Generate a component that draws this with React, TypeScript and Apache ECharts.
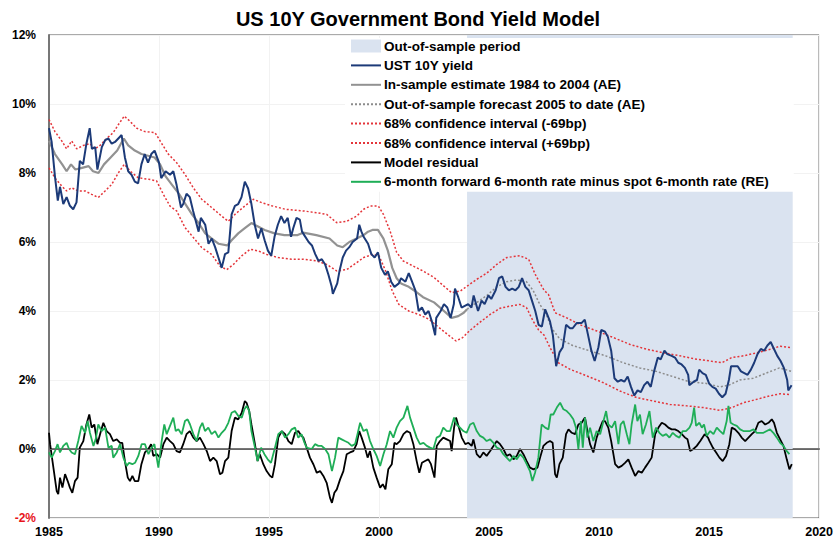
import React, { useEffect, useRef } from "react";
import * as echarts from "echarts";

const FONT = "'Liberation Sans', Arial, Helvetica, sans-serif";

const yearTicks = [1985, 1990, 1995, 2000, 2005, 2010, 2015, 2020];
const shadeRange = [2004.0, 2018.8];

const yieldPts: [number, number][] = [
  [1985.0, 9.3], [1985.12, 8.9], [1985.27, 7.9], [1985.4, 7.2], [1985.5, 7.6], [1985.65, 7.1], [1985.8, 7.3],
  [1985.95, 7.05], [1986.1, 6.95], [1986.25, 7.15], [1986.4, 8.35], [1986.55, 8.25], [1986.7, 8.85], [1986.85, 9.3],
  [1986.95, 8.7], [1987.1, 8.75], [1987.2, 8.1], [1987.4, 8.75], [1987.55, 8.95], [1987.7, 9.0], [1987.85, 8.85],
  [1988.0, 8.9], [1988.15, 9.0], [1988.3, 9.1], [1988.45, 8.45], [1988.6, 8.05], [1988.75, 7.95], [1988.9, 7.75],
  [1989.05, 7.7], [1989.2, 8.25], [1989.35, 8.55], [1989.5, 8.3], [1989.65, 8.55], [1989.8, 8.65], [1990.0, 8.3],
  [1990.1, 7.85], [1990.3, 8.05], [1990.5, 7.95], [1990.65, 8.05], [1990.8, 7.65], [1991.0, 7.0], [1991.1, 7.1],
  [1991.25, 7.4], [1991.4, 7.3], [1991.55, 6.9], [1991.8, 6.3], [1991.9, 6.7], [1992.1, 6.5], [1992.25, 5.95],
  [1992.4, 6.1], [1992.55, 5.85], [1992.7, 5.55], [1992.85, 5.25], [1993.0, 5.65], [1993.15, 5.7], [1993.3, 6.8],
  [1993.45, 7.05], [1993.6, 7.1], [1993.75, 7.3], [1993.9, 7.75], [1994.05, 7.55], [1994.2, 7.1], [1994.35, 6.5],
  [1994.5, 6.1], [1994.65, 6.4], [1994.8, 6.05], [1994.95, 5.75], [1995.1, 5.6], [1995.25, 6.15], [1995.4, 6.5],
  [1995.55, 6.75], [1995.7, 6.55], [1995.85, 6.7], [1996.0, 6.15], [1996.1, 6.4], [1996.25, 6.7], [1996.4, 6.65],
  [1996.5, 6.3], [1996.6, 6.2], [1996.8, 6.0], [1996.95, 5.9], [1997.1, 5.65], [1997.25, 5.45], [1997.4, 5.5],
  [1997.55, 5.35], [1997.7, 5.05], [1997.85, 4.7], [1997.9, 4.5], [1998.1, 4.8], [1998.2, 5.15], [1998.35, 5.55],
  [1998.5, 5.75], [1998.65, 5.85], [1998.8, 6.0], [1999.0, 6.1], [1999.1, 6.5], [1999.2, 6.3], [1999.3, 6.15],
  [1999.5, 5.95], [1999.65, 5.65], [1999.8, 5.55], [1999.95, 5.7], [2000.1, 5.25], [2000.27, 5.05], [2000.4, 5.15],
  [2000.55, 4.85], [2000.7, 4.7], [2000.9, 4.8], [2001.0, 4.95], [2001.2, 4.85], [2001.35, 5.1], [2001.5, 4.85],
  [2001.65, 4.6], [2001.8, 4.0], [2001.95, 4.1], [2002.1, 3.9], [2002.25, 4.0], [2002.4, 3.7], [2002.55, 3.3],
  [2002.6, 3.8], [2002.8, 4.0], [2002.95, 4.2], [2003.1, 4.1], [2003.25, 3.8], [2003.4, 4.2], [2003.45, 4.65],
  [2003.6, 4.4], [2003.75, 4.1], [2003.9, 4.15], [2004.05, 4.2], [2004.2, 4.1], [2004.3, 4.45], [2004.5, 4.0],
  [2004.66, 4.3], [2004.8, 4.2], [2004.97, 4.45], [2005.1, 4.35], [2005.3, 4.6], [2005.45, 4.95], [2005.6, 5.0],
  [2005.75, 4.7], [2005.9, 4.6], [2006.05, 4.65], [2006.2, 4.6], [2006.35, 4.7], [2006.5, 4.95], [2006.65, 4.7],
  [2006.8, 4.6], [2006.95, 4.3], [2007.1, 4.0], [2007.25, 3.6], [2007.4, 3.55], [2007.55, 4.05], [2007.77, 3.7],
  [2007.9, 3.3], [2008.05, 2.4], [2008.2, 2.8], [2008.35, 2.95], [2008.5, 3.6], [2008.68, 3.5], [2008.8, 3.5],
  [2008.98, 3.65], [2009.2, 3.65], [2009.35, 3.75], [2009.5, 3.3], [2009.65, 2.85], [2009.8, 2.55], [2009.97, 2.95],
  [2010.1, 3.45], [2010.27, 3.4], [2010.4, 3.25], [2010.55, 2.85], [2010.7, 2.05], [2010.85, 1.95], [2011.0, 2.0],
  [2011.15, 1.95], [2011.3, 2.1], [2011.45, 1.8], [2011.6, 1.55], [2011.75, 1.7], [2011.9, 1.65], [2012.05, 1.85],
  [2012.2, 1.95], [2012.35, 1.8], [2012.5, 2.25], [2012.67, 2.65], [2012.8, 2.6], [2012.97, 2.85], [2013.1, 2.75],
  [2013.3, 2.7], [2013.45, 2.65], [2013.6, 2.5], [2013.75, 2.45], [2013.9, 2.35], [2014.05, 2.15], [2014.1, 1.85],
  [2014.3, 1.95], [2014.45, 2.0], [2014.55, 2.3], [2014.7, 2.2], [2014.85, 2.15], [2015.0, 1.9], [2015.15, 1.8],
  [2015.3, 1.75], [2015.45, 1.6], [2015.6, 1.5], [2015.75, 1.6], [2015.9, 2.0], [2016.0, 2.4], [2016.15, 2.4],
  [2016.3, 2.4], [2016.45, 2.25], [2016.6, 2.2], [2016.75, 2.15], [2016.9, 2.3], [2017.05, 2.5], [2017.2, 2.75],
  [2017.35, 2.9], [2017.5, 2.85], [2017.65, 3.0], [2017.8, 3.1], [2017.95, 2.9], [2018.1, 2.7], [2018.25, 2.55],
  [2018.4, 2.35], [2018.55, 2.0], [2018.6, 1.7], [2018.75, 1.85],
];

const estimatePts: [number, number][] = [
  [1985.0, 8.93], [1985.27, 8.55], [1985.6, 8.25], [1985.8, 8.05], [1986.0, 8.25], [1986.2, 8.1], [1986.5, 8.15],
  [1986.8, 8.2], [1987.0, 8.05], [1987.25, 8.0], [1987.5, 8.25], [1987.8, 8.45], [1988.1, 8.65], [1988.4, 9.0],
  [1988.6, 8.8], [1988.9, 8.65], [1989.2, 8.55], [1989.5, 8.5], [1989.8, 8.45], [1990.05, 8.25], [1990.3, 7.9],
  [1990.6, 7.65], [1990.9, 7.4], [1991.2, 7.1], [1991.5, 6.8], [1991.8, 6.55], [1992.1, 6.25], [1992.4, 6.1],
  [1992.7, 5.95], [1993.1, 5.9], [1993.3, 6.05], [1993.6, 6.25], [1993.9, 6.4], [1994.2, 6.55], [1994.5, 6.45],
  [1994.8, 6.35], [1995.25, 6.25], [1995.7, 6.2], [1996.3, 6.2], [1996.55, 6.27], [1997.15, 6.2], [1997.75, 6.1],
  [1998.1, 5.9], [1998.35, 5.85], [1998.65, 6.0], [1998.98, 6.1], [1999.3, 6.2], [1999.5, 6.3], [1999.7, 6.35],
  [1999.95, 6.35], [2000.2, 6.1], [2000.4, 5.75], [2000.6, 5.25], [2000.8, 4.95], [2001.0, 4.8], [2001.35, 4.7],
  [2001.7, 4.55], [2002.0, 4.4], [2002.5, 4.25], [2002.95, 4.0], [2003.3, 3.8], [2003.6, 3.85], [2003.85, 3.95],
  [2004.0, 4.05],
];

const forecastPts: [number, number][] = [
  [2004.0, 4.05], [2004.45, 4.25], [2004.9, 4.45], [2005.35, 4.7], [2005.8, 4.85], [2006.25, 4.9], [2006.7, 4.85],
  [2007.0, 4.6], [2007.3, 4.2], [2007.6, 3.9], [2007.85, 3.5], [2008.2, 3.2], [2008.8, 3.0], [2009.55, 2.85],
  [2010.3, 2.7], [2011.1, 2.5], [2011.85, 2.35], [2012.6, 2.25], [2013.35, 2.1], [2014.1, 1.95], [2014.88, 1.9],
  [2015.5, 1.8], [2015.9, 1.85], [2016.4, 2.0], [2017.0, 2.05], [2017.6, 2.2], [2018.2, 2.35], [2018.75, 2.25],
];

const lowerPts: [number, number][] = [
  [1985.0, 8.15], [1985.27, 7.86], [1985.58, 7.62], [1985.8, 7.48], [1986.03, 7.57], [1986.33, 7.48], [1986.64, 7.48],
  [1986.94, 7.38], [1987.24, 7.29], [1987.55, 7.48], [1987.85, 7.67], [1988.15, 8.0], [1988.42, 8.25], [1988.68, 8.06],
  [1989.06, 7.86], [1989.52, 7.82], [1989.89, 7.77], [1990.2, 7.38], [1990.5, 7.04], [1990.8, 6.9], [1991.18, 6.42],
  [1991.56, 6.13], [1991.94, 5.84], [1992.39, 5.64], [1992.77, 5.3], [1993.08, 5.2], [1993.38, 5.35], [1993.76, 5.6],
  [1994.14, 5.79], [1994.52, 5.74], [1994.89, 5.64], [1995.42, 5.55], [1996.03, 5.5], [1996.56, 5.5], [1997.17, 5.45],
  [1997.62, 5.35], [1998.08, 5.16], [1998.53, 5.2], [1998.98, 5.4], [1999.3, 5.55], [1999.7, 5.64], [2000.0, 5.6],
  [2000.3, 5.16], [2000.6, 4.58], [2000.9, 4.19], [2001.35, 4.0], [2001.8, 3.9], [2002.27, 3.76], [2002.73, 3.52],
  [2003.2, 3.28], [2003.5, 3.13], [2003.8, 3.23], [2004.1, 3.42], [2004.56, 3.66], [2005.05, 3.9], [2005.5, 4.08],
  [2005.95, 4.14], [2006.4, 4.19], [2006.7, 4.1], [2007.0, 3.71], [2007.25, 3.45], [2007.5, 3.3], [2007.77, 2.94],
  [2008.15, 2.5], [2008.68, 2.31], [2009.44, 2.12], [2010.2, 1.92], [2010.95, 1.68], [2011.71, 1.49], [2012.47, 1.39],
  [2013.23, 1.29], [2014.0, 1.25], [2014.74, 1.2], [2015.5, 1.12], [2016.03, 1.2], [2016.56, 1.34], [2017.17, 1.44],
  [2017.77, 1.54], [2018.23, 1.6], [2018.68, 1.58],
];

const upperPts: [number, number][] = [
  [1985.0, 9.55], [1985.27, 9.2], [1985.58, 8.93], [1985.8, 8.7], [1986.03, 8.93], [1986.26, 8.7], [1986.56, 8.8],
  [1986.86, 8.85], [1987.09, 8.7], [1987.32, 8.8], [1987.62, 9.0], [1987.92, 9.17], [1988.15, 9.4], [1988.42, 9.65],
  [1988.68, 9.5], [1988.98, 9.3], [1989.36, 9.2], [1989.82, 9.17], [1990.05, 8.93], [1990.42, 8.55], [1990.8, 8.3],
  [1991.18, 7.96], [1991.56, 7.57], [1991.94, 7.24], [1992.39, 7.0], [1992.85, 6.75], [1993.15, 6.6], [1993.45, 6.8],
  [1993.91, 7.05], [1994.29, 7.24], [1994.67, 7.14], [1995.12, 7.05], [1995.73, 6.95], [1996.2, 6.92], [1996.56, 6.9],
  [1997.17, 6.85], [1997.62, 6.8], [1998.08, 6.56], [1998.53, 6.6], [1998.98, 6.75], [1999.3, 6.95], [1999.6, 7.04],
  [1999.97, 7.04], [2000.2, 6.8], [2000.5, 6.32], [2000.8, 5.7], [2001.1, 5.45], [2001.56, 5.3], [2002.0, 5.16],
  [2002.5, 4.97], [2002.95, 4.72], [2003.3, 4.53], [2003.7, 4.58], [2004.0, 4.72], [2004.45, 4.92], [2004.9, 5.1],
  [2005.35, 5.35], [2005.8, 5.55], [2006.4, 5.6], [2006.8, 5.5], [2007.1, 5.06], [2007.32, 4.8], [2007.5, 4.6],
  [2007.7, 4.48], [2008.0, 3.95], [2008.53, 3.8], [2009.14, 3.6], [2009.9, 3.42], [2010.65, 3.23], [2011.41, 3.03],
  [2012.17, 2.89], [2012.92, 2.79], [2013.68, 2.7], [2014.44, 2.6], [2015.05, 2.55], [2015.58, 2.5], [2016.03, 2.65],
  [2016.56, 2.7], [2017.17, 2.79], [2017.77, 2.89], [2018.23, 2.98], [2018.68, 2.94],
];

const residualPts: [number, number][] = [
  [1985.0, 0.47], [1985.05, 0.14], [1985.2, -0.54], [1985.35, -1.22], [1985.42, -1.31], [1985.5, -0.83], [1985.61, -1.12],
  [1985.73, -0.73], [1985.85, -0.93], [1985.95, -1.12], [1986.06, -1.27], [1986.18, -0.93], [1986.3, -0.83], [1986.4, 0.04],
  [1986.56, 0.23], [1986.7, 0.71], [1986.83, 1.0], [1986.94, 0.62], [1987.06, 0.71], [1987.2, 0.14], [1987.32, 0.43],
  [1987.47, 0.76], [1987.62, 0.52], [1987.77, 0.43], [1987.92, 0.23], [1988.08, 0.28], [1988.23, 0.18], [1988.33, 0.18],
  [1988.45, -0.35], [1988.58, -0.83], [1988.68, -0.93], [1988.79, -0.78], [1988.9, -0.93], [1989.06, -0.93], [1989.2, -0.44],
  [1989.36, -0.1], [1989.52, 0.0], [1989.64, 0.14], [1989.74, -0.2], [1989.9, -0.15], [1990.05, -0.25], [1990.2, 0.14],
  [1990.35, 0.33], [1990.5, 0.23], [1990.65, 0.14], [1990.8, -0.06], [1990.95, -0.1], [1991.1, 0.14], [1991.25, 0.43],
  [1991.4, 0.52], [1991.56, 0.33], [1991.71, 0.23], [1991.86, 0.33], [1992.02, 0.14], [1992.17, -0.06], [1992.32, -0.35],
  [1992.47, -0.25], [1992.62, -0.35], [1992.77, -0.73], [1992.88, -0.69], [1993.0, -0.35], [1993.15, -0.25], [1993.3, 0.52],
  [1993.45, 0.91], [1993.6, 0.86], [1993.76, 1.05], [1993.9, 1.39], [1993.98, 1.34], [1994.1, 1.1], [1994.2, 0.71],
  [1994.36, 0.14], [1994.48, -0.35], [1994.58, -0.15], [1994.74, -0.44], [1994.89, -0.64], [1995.05, -0.78], [1995.15, -0.83],
  [1995.27, -0.44], [1995.42, 0.33], [1995.58, 0.52], [1995.73, 0.43], [1995.88, 0.23], [1996.03, 0.14], [1996.18, 0.47],
  [1996.33, 0.52], [1996.45, 0.4], [1996.56, 0.33], [1996.71, 0.04], [1996.86, -0.25], [1997.02, -0.45], [1997.17, -0.69],
  [1997.32, -0.64], [1997.47, -0.78], [1997.62, -0.98], [1997.77, -1.41], [1997.86, -1.56], [1997.97, -1.27], [1998.08, -1.17],
  [1998.23, -0.88], [1998.38, -0.64], [1998.53, -0.15], [1998.68, -0.1], [1998.83, -0.06], [1998.98, 0.14], [1999.1, 0.52],
  [1999.21, 0.33], [1999.36, 0.04], [1999.48, -0.25], [1999.59, -0.06], [1999.74, -0.54], [1999.89, -0.83], [2000.05, -1.12],
  [2000.17, -1.02], [2000.29, -1.17], [2000.42, -0.59], [2000.58, -0.44], [2000.7, 0.18], [2000.8, 0.14], [2000.95, 0.23],
  [2001.11, 0.43], [2001.26, 0.52], [2001.41, 0.47], [2001.56, 0.14], [2001.71, -0.35], [2001.83, -0.69], [2001.95, -0.4],
  [2002.09, -0.35], [2002.24, -0.3], [2002.36, -0.44], [2002.52, -0.83], [2002.62, 0.09], [2002.77, 0.23], [2002.92, 0.33],
  [2003.08, 0.28], [2003.23, 0.23], [2003.3, -0.06], [2003.41, 0.62], [2003.5, 0.91], [2003.61, 0.67], [2003.76, 0.33],
  [2003.92, 0.14], [2004.06, 0.18], [2004.21, 0.09], [2004.29, 0.28], [2004.44, -0.15], [2004.59, -0.25], [2004.74, -0.1],
  [2004.89, -0.2], [2005.05, -0.06], [2005.2, 0.09], [2005.35, 0.23], [2005.5, 0.14], [2005.65, 0.0], [2005.8, -0.2],
  [2005.95, -0.15], [2006.11, -0.3], [2006.26, -0.2], [2006.41, 0.0], [2006.56, -0.15], [2006.71, -0.35], [2006.86, -0.54],
  [2007.02, -0.59], [2007.2, -0.54], [2007.32, -0.25], [2007.47, 0.09], [2007.62, 0.18], [2007.77, 0.23], [2007.89, 0.18],
  [2008.0, -0.73], [2008.08, -0.83], [2008.2, -0.44], [2008.35, -0.25], [2008.5, 0.43], [2008.61, 0.57], [2008.76, 0.47],
  [2008.91, 0.43], [2009.06, 0.71], [2009.21, 0.76], [2009.36, 0.91], [2009.47, 0.52], [2009.59, 0.14], [2009.74, -0.1],
  [2009.89, 0.33], [2010.05, 0.62], [2010.17, 0.81], [2010.27, 0.81], [2010.42, 0.62], [2010.55, 0.23], [2010.73, -0.44],
  [2010.88, -0.54], [2011.03, -0.49], [2011.18, -0.4], [2011.33, -0.3], [2011.48, -0.54], [2011.64, -0.78], [2011.79, -0.64],
  [2011.94, -0.69], [2012.09, -0.54], [2012.24, -0.4], [2012.39, -0.25], [2012.55, 0.43], [2012.7, 0.62], [2012.85, 0.76],
  [2013.0, 0.71], [2013.15, 0.62], [2013.3, 0.57], [2013.45, 0.57], [2013.6, 0.52], [2013.76, 0.43], [2013.91, 0.33],
  [2014.02, 0.28], [2014.14, -0.06], [2014.29, 0.0], [2014.44, 0.09], [2014.6, 0.23], [2014.8, 0.43], [2014.95, 0.33],
  [2015.02, 0.23], [2015.17, 0.04], [2015.32, -0.1], [2015.47, -0.25], [2015.62, -0.35], [2015.77, -0.2], [2015.92, 0.14],
  [2016.03, 0.62], [2016.18, 0.57], [2016.33, 0.47], [2016.48, 0.33], [2016.64, 0.23], [2016.79, 0.33], [2016.94, 0.43],
  [2017.09, 0.52], [2017.24, 0.76], [2017.39, 0.81], [2017.55, 0.71], [2017.7, 0.76], [2017.85, 0.86], [2017.95, 0.76],
  [2018.08, 0.47], [2018.23, 0.28], [2018.38, 0.09], [2018.53, -0.3], [2018.65, -0.59], [2018.76, -0.44],
];

const forwardSpreadPts: [number, number][] = [
  [1985.0, -0.1], [1985.12, -0.25], [1985.27, -0.06], [1985.39, 0.14], [1985.5, -0.1], [1985.65, 0.09], [1985.8, 0.18],
  [1985.91, 0.0], [1986.03, -0.1], [1986.18, -0.15], [1986.33, 0.23], [1986.48, 0.67], [1986.64, 0.47], [1986.76, 0.81],
  [1986.86, 0.47], [1987.02, 0.09], [1987.12, 0.28], [1987.24, 0.71], [1987.39, 0.52], [1987.55, 0.62], [1987.7, 0.04],
  [1987.85, 0.09], [1987.92, -0.25], [1988.08, -0.1], [1988.23, 0.14], [1988.38, -0.25], [1988.53, -0.49], [1988.64, -0.4],
  [1988.79, -0.44], [1988.91, -0.4], [1989.06, -0.2], [1989.21, 0.14], [1989.36, 0.14], [1989.52, -0.15], [1989.67, 0.04],
  [1989.79, 0.14], [1989.97, -0.54], [1990.12, 0.23], [1990.24, 0.71], [1990.35, 0.43], [1990.5, 0.67], [1990.65, 0.91],
  [1990.76, 0.52], [1990.88, 0.57], [1991.03, 0.43], [1991.18, 0.81], [1991.3, 0.86], [1991.41, 0.71], [1991.56, 0.43],
  [1991.71, 0.23], [1991.86, 0.62], [1991.97, 0.76], [1992.09, 0.52], [1992.24, 0.62], [1992.39, 0.43], [1992.55, 0.52],
  [1992.7, 0.33], [1992.85, 0.47], [1993.0, 0.57], [1993.15, 0.76], [1993.3, 1.05], [1993.45, 1.1], [1993.6, 0.96],
  [1993.76, 0.91], [1993.88, 1.15], [1993.98, 1.25], [1994.1, 1.1], [1994.2, 0.52], [1994.36, 0.04], [1994.48, -0.35],
  [1994.64, 0.04], [1994.79, -0.15], [1994.94, -0.3], [1995.09, -0.4], [1995.27, 0.04], [1995.42, 0.43], [1995.58, 0.52],
  [1995.73, 0.33], [1995.88, 0.43], [1996.03, 0.57], [1996.18, 0.62], [1996.33, 0.33], [1996.48, 0.43], [1996.6, 0.2],
  [1996.71, 0.04], [1996.94, 0.0], [1997.09, 0.14], [1997.24, 0.09], [1997.39, 0.09], [1997.55, 0.0], [1997.7, -0.15],
  [1997.86, -0.64], [1998.0, -0.25], [1998.15, 0.33], [1998.3, 0.28], [1998.45, 0.23], [1998.61, 0.18], [1998.76, 0.09],
  [1998.91, 0.14], [1999.02, 0.43], [1999.14, 0.76], [1999.29, 0.52], [1999.44, 0.57], [1999.59, 0.23], [1999.74, 0.0],
  [1999.89, -0.2], [2000.05, -0.49], [2000.2, -0.15], [2000.35, 0.14], [2000.5, 0.52], [2000.65, 0.33], [2000.8, 0.62],
  [2000.95, 0.81], [2001.11, 0.91], [2001.29, 1.25], [2001.41, 0.91], [2001.56, 0.62], [2001.71, 0.33], [2001.86, 0.14],
  [2002.02, 0.18], [2002.17, 0.09], [2002.32, 0.04], [2002.47, 0.0], [2002.62, 0.33], [2002.77, 0.38], [2002.92, 0.62],
  [2003.08, 0.52], [2003.23, 0.52], [2003.41, 0.91], [2003.53, 0.71], [2003.68, 0.62], [2003.83, 0.52], [2003.98, 0.47],
  [2004.14, 0.71], [2004.29, 0.76], [2004.44, 0.52], [2004.59, 0.38], [2004.74, 0.33], [2004.89, 0.23], [2005.05, 0.28],
  [2005.2, 0.18], [2005.35, 0.04], [2005.5, 0.0], [2005.65, -0.15], [2005.8, -0.25], [2005.95, -0.35], [2006.11, -0.2],
  [2006.26, -0.3], [2006.41, -0.15], [2006.56, -0.25], [2006.71, -0.44], [2006.86, -0.64], [2006.97, -0.93], [2007.09, -0.69],
  [2007.24, -0.25], [2007.39, 0.71], [2007.55, 0.62], [2007.7, 0.57], [2007.8, 1.0], [2007.92, 1.0], [2008.08, 1.2],
  [2008.23, 1.34], [2008.38, 1.15], [2008.53, 1.1], [2008.68, 1.0], [2008.83, 0.86], [2008.95, 0.62], [2009.06, 0.0],
  [2009.17, 0.81], [2009.26, 0.04], [2009.36, 0.91], [2009.47, 0.33], [2009.59, 0.62], [2009.74, 0.23], [2009.89, 0.52],
  [2010.05, 0.43], [2010.2, 0.81], [2010.32, 1.1], [2010.42, 0.71], [2010.58, 0.62], [2010.73, 0.81], [2010.88, 0.14],
  [2010.98, 0.71], [2011.11, 0.81], [2011.26, 0.43], [2011.38, 0.14], [2011.48, 0.71], [2011.64, 1.29], [2011.74, 0.81],
  [2011.86, 1.0], [2011.98, 0.43], [2012.13, 0.71], [2012.29, 1.1], [2012.44, 0.33], [2012.59, 0.62], [2012.74, 0.47],
  [2012.89, 0.38], [2013.05, 0.43], [2013.2, 0.33], [2013.35, 0.47], [2013.5, 0.38], [2013.65, 0.33], [2013.8, 0.52],
  [2013.95, 0.52], [2014.11, 0.62], [2014.21, 0.76], [2014.32, 1.2], [2014.41, 0.67], [2014.56, 0.76], [2014.67, 0.62],
  [2014.77, 0.71], [2014.89, 0.38], [2015.05, 0.52], [2015.2, 0.43], [2015.35, 0.62], [2015.5, 0.52], [2015.65, 0.43],
  [2015.8, 0.81], [2015.88, 1.25], [2015.98, 0.76], [2016.11, 0.71], [2016.26, 0.67], [2016.41, 0.57], [2016.56, 0.52],
  [2016.71, 0.52], [2016.86, 0.52], [2017.02, 0.57], [2017.17, 0.47], [2017.32, 0.47], [2017.47, 0.47], [2017.62, 0.52],
  [2017.77, 0.57], [2017.92, 0.47], [2018.08, 0.33], [2018.23, 0.18], [2018.38, 0.09], [2018.53, -0.06], [2018.65, -0.15],
];

const NAMES = {
  shade: "Out-of-sample period",
  ust: "UST 10Y yield",
  est: "In-sample estimate 1984 to 2004 (AE)",
  fc: "Out-of-sample forecast 2005 to date (AE)",
  lo: "68% confidence interval (-69bp)",
  hi: "68% confidence interval (+69bp)",
  res: "Model residual",
  fwd: "6-month forward 6-month rate minus spot 6-month rate (RE)",
};

const SHADE = "#DAE3F0";

export default function App() {
  const ref = useRef<HTMLDivElement>(null);
  useEffect(() => {
    if (!ref.current) return;
    const chart = echarts.init(ref.current, undefined, { renderer: "svg" });
    const lineBase = (name: string, data: [number, number][], color: string, width: number, type: any = "solid") => ({
      name,
      type: "line",
      data,
      symbol: "none",
      showSymbol: false,
      smooth: false,
      itemStyle: { color },
      lineStyle: { color, width, type },
      silent: true,
    });
    chart.setOption({
      animation: false,
      backgroundColor: "#ffffff",
      textStyle: { fontFamily: FONT },
      title: {
        text: "US 10Y Government Bond Yield Model",
        left: "center",
        top: 4,
        textStyle: { fontFamily: FONT, fontSize: 20, fontWeight: "bold", color: "#000" },
      },
      legend: {
        orient: "vertical",
        left: 345,
        top: 38,
        selectedMode: false,
        backgroundColor: "#ffffff",
        padding: [1, 25, 3, 5],
        itemWidth: 30,
        itemHeight: 13,
        itemGap: 5.4,
        itemStyle: { opacity: 0 },
        textStyle: { fontFamily: FONT, fontSize: 13.5, fontWeight: "bold", color: "#000", padding: [0, 0, 0, -2] },
        data: [
          { name: NAMES.shade, icon: "rect", itemStyle: { color: SHADE, opacity: 1 } },
          NAMES.ust, NAMES.est, NAMES.fc, NAMES.lo, NAMES.hi, NAMES.res, NAMES.fwd,
        ],
      },
      grid: { left: 49, right: 16, top: 35, bottom: 21, show: true, borderColor: "#555", borderWidth: 1 },
      xAxis: {
        type: "value",
        min: 1985,
        max: 2020,
        interval: 5,
        axisLine: { show: true, lineStyle: { color: "#777", width: 2 } },
        axisTick: { show: false },
        splitLine: { show: true, lineStyle: { color: "#F2F2F2", width: 1 } },
        axisLabel: {
          margin: 7,
          fontFamily: FONT,
          fontSize: 12.5,
          fontWeight: "bold",
          color: "#000",
          formatter: (v: number) => (yearTicks.includes(v) ? String(v) : ""),
        },
      },
      yAxis: {
        type: "value",
        min: -2,
        max: 12,
        interval: 2,
        axisLine: { show: true, lineStyle: { color: "#777", width: 2 } },
        axisTick: { show: false },
        splitLine: { show: true, lineStyle: { color: "#F2F2F2", width: 1 } },
        axisLabel: {
          margin: 13,
          fontFamily: FONT,
          fontSize: 12,
          fontWeight: "bold",
          color: (v: any) => (Number(v) < 0 ? "#E8141B" : "#000"),
          formatter: (v: number) => `${v}%`,
        },
      },
      series: [
        {
          name: NAMES.shade,
          type: "line",
          data: [],
          symbol: "none",
          itemStyle: { color: SHADE },
          lineStyle: { color: SHADE },
          silent: true,
          markArea: {
            silent: true,
            itemStyle: { color: SHADE },
            data: [[{ xAxis: shadeRange[0] }, { xAxis: shadeRange[1] }]],
          },
        },
        lineBase(NAMES.lo, lowerPts, "#E4353A", 1.5, [2, 2]),
        lineBase(NAMES.hi, upperPts, "#E4353A", 1.5, [2, 2]),
        lineBase(NAMES.fc, forecastPts, "#8C8C8C", 1.5, [2, 2]),
        lineBase(NAMES.est, estimatePts, "#929292", 2.2),
        lineBase(NAMES.ust, yieldPts, "#1C3A78", 2),
        {
          ...lineBase(NAMES.res, residualPts, "#000000", 1.8),
          markLine: {
            silent: true,
            symbol: "none",
            label: { show: false },
            lineStyle: { color: "#666", width: 1, type: "solid" },
            data: [{ yAxis: 0 }],
          },
        },
        lineBase(NAMES.fwd, forwardSpreadPts, "#1FAE57", 1.8),
      ],
    });
    return () => chart.dispose();
  }, []);
  return (
    <div
      ref={ref}
      style={{ position: "fixed", left: 0, top: 0, width: 836, height: 539, background: "#fff" }}
    />
  );
}
